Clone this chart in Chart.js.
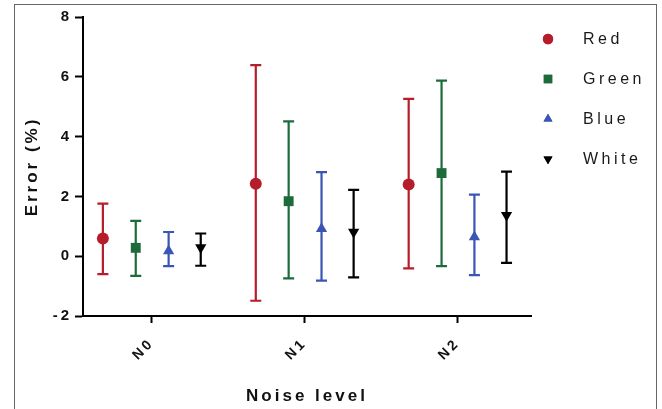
<!DOCTYPE html>
<html>
<head>
<meta charset="utf-8">
<script src="https://cdn.jsdelivr.net/npm/chart.js@4/dist/chart.umd.min.js"></script>
<style>
    body { margin: 0; background: #fff; }
    #marco { position: absolute; left: 14px; top: 4px; width: 641px; height: 420px; border: 1px solid #666; }
    #caja { position: absolute; left: 0; top: 0; width: 662px; height: 409px; }
</style>
</head>
<body>
<div id="marco"></div>
<div id="caja"><canvas id="grafica" width="662" height="409"></canvas></div>
<script>
// datos
const niveles = ['N0', 'N1', 'N2'];
const series = ['Red', 'Green', 'Blue', 'White'];
const desplazamientos = [-0.32, -0.105, 0.11, 0.32];

const redMedia = [0.59, 2.42, 2.40];
const redAlto = [1.76, 6.39, 5.26];
const redBajo = [-0.60, -1.49, -0.41];

const greenMedia = [0.28, 1.84, 2.78];
const greenAlto = [1.18, 4.51, 5.87];
const greenBajo = [-0.66, -0.74, -0.33];

const blueMedia = [0.17, 0.92, 0.64];
const blueAlto = [0.81, 2.81, 2.06];
const blueBajo = [-0.33, -0.82, -0.63];

const whiteMedia = [0.29, 0.81, 1.37];
const whiteAlto = [0.76, 2.22, 2.83];
const whiteBajo = [-0.32, -0.71, -0.22];

const yTicks = [-2, 0, 2, 4, 6, 8];

const colores = ['#b51d2b', '#1d6b3b', '#3a55b5', '#000000'];
const estilos = ['circle', 'rect', 'triangle', 'triangle'];
const giros = [0, 0, 0, 180];
const radios = [6, 7, 6.5, 6.5];

const medias = [redMedia, greenMedia, blueMedia, whiteMedia];
const altos = [redAlto, greenAlto, blueAlto, whiteAlto];
const bajos = [redBajo, greenBajo, blueBajo, whiteBajo];

const datasets = series.map((nombre, s) => ({
    label: nombre,
    data: medias[s].map((v, i) => ({ x: i + desplazamientos[s], y: v, alto: altos[s][i], bajo: bajos[s][i] })),
    backgroundColor: colores[s],
    borderColor: colores[s],
    pointStyle: estilos[s],
    pointRotation: giros[s],
    pointRadius: radios[s],
    pointBorderWidth: 0,
    showLine: false
}));

// barras de error dibujadas con las escalas del grafico
const barrasError = {
    id: 'barrasError',
    beforeDatasetsDraw(chart) {
        const ctx = chart.ctx;
        const y = chart.scales.y;
        chart.data.datasets.forEach((ds, s) => {
            const meta = chart.getDatasetMeta(s);
            ctx.save();
            ctx.strokeStyle = ds.borderColor;
            ctx.lineWidth = 2.2;
            meta.data.forEach((pt, i) => {
                const d = ds.data[i];
                const yA = y.getPixelForValue(d.alto);
                const yB = y.getPixelForValue(d.bajo);
                ctx.beginPath();
                ctx.moveTo(pt.x, yA); ctx.lineTo(pt.x, yB);
                ctx.moveTo(pt.x - 5.5, yA); ctx.lineTo(pt.x + 5.5, yA);
                ctx.moveTo(pt.x - 5.5, yB); ctx.lineTo(pt.x + 5.5, yB);
                ctx.stroke();
            });
            ctx.restore();
        });
    }
};

const espaciado = {
    id: 'espaciado',
    beforeDraw(chart) { chart.ctx.letterSpacing = '3px'; }
};

// leyenda a la derecha
const leyenda = {
    id: 'leyenda',
    afterDraw(chart) {
        const ctx = chart.ctx;
        ctx.save();
        ctx.letterSpacing = '3.5px';
        ctx.font = '16px "Liberation Sans", Arial, sans-serif';
        ctx.textBaseline = 'middle';
        chart.data.datasets.forEach((ds, s) => {
            const yy = 39 + s * 40;
            const r = s === 1 ? 6 : 5.2;
            ctx.fillStyle = ds.backgroundColor;
            Chart.helpers.drawPoint(ctx, { pointStyle: ds.pointStyle, rotation: ds.pointRotation, radius: r, borderWidth: 0 }, 548, yy);
            ctx.fill();
            ctx.fillStyle = '#1a1a1a';
            ctx.fillText(ds.label, 583, yy + 1);
        });
        ctx.restore();
    }
};

new Chart(document.getElementById('grafica'), {
    type: 'scatter',
    data: { datasets },
    options: {
        responsive: false,
        animation: false,
        layout: { padding: { top: 17, right: 131, bottom: 0, left: 0 } },
        plugins: { legend: { display: false }, tooltip: { enabled: false } },
        scales: {
            x: {
                type: 'linear',
                min: -0.45,
                max: 2.48,
                afterFit: (scale) => { scale.height = 93; },
                afterBuildTicks: (scale) => { scale.ticks = niveles.map((n, i) => ({ value: i })); },
                grid: { drawOnChartArea: false, tickLength: 7, tickColor: '#000', tickWidth: 2 },
                border: { color: '#000', width: 2 },
                ticks: {
                    minRotation: 45, maxRotation: 45, padding: 12, color: '#111',
                    font: { family: '"Liberation Sans", Arial, sans-serif', size: 14, weight: 'bold' },
                    callback: (v) => niveles[v]
                },
                title: {
                    display: true, text: 'Noise level', color: '#111', padding: { top: 0, bottom: 2 },
                    font: { family: '"Liberation Sans", Arial, sans-serif', size: 17, weight: 'bold' }
                }
            },
            y: {
                min: -2,
                max: 8,
                afterFit: (scale) => { scale.width = 83; },
                afterBuildTicks: (scale) => { scale.ticks = yTicks.map(v => ({ value: v })); },
                grid: { drawOnChartArea: false, tickLength: 8, tickColor: '#000', tickWidth: 2 },
                border: { color: '#000', width: 2 },
                ticks: {
                    padding: 3, color: '#111',
                    font: { family: '"Liberation Sans", Arial, sans-serif', size: 15, weight: 'bold' }
                },
                title: {
                    display: true, text: 'Error (%)', color: '#111', padding: { top: 22, bottom: 0 },
                    font: { family: '"Liberation Sans", Arial, sans-serif', size: 17, weight: 'bold' }
                }
            }
        }
    },
    plugins: [espaciado, barrasError, leyenda]
});
</script>
</body>
</html>
